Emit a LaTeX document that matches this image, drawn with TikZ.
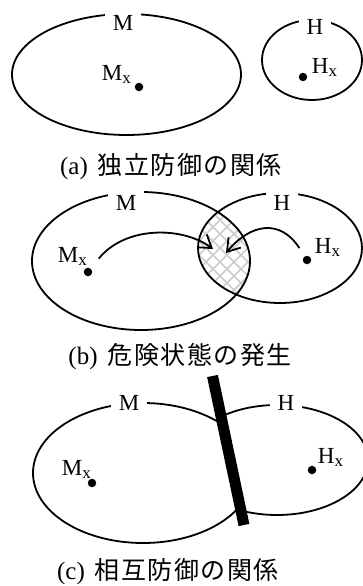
\documentclass[tikz,border=0pt]{standalone}
\usepackage{fontspec}
\setmainfont{Liberation Serif}
\newfontfamily\jpfont[LetterSpace=6]{Noto Sans CJK JP}
\usetikzlibrary{arrows.meta}
\newcommand{\subx}{\raisebox{-3pt}{\fontsize{17}{17}\selectfont x}}

\begin{document}
\begin{tikzpicture}[x=1pt, y=-1pt, line width=1.8pt,
  setlabel/.style={fill=white, inner xsep=8pt, inner ysep=0pt, minimum height=22pt, anchor=base, font=\fontsize{23}{23}\selectfont},
  ptlabel/.style={inner sep=0pt, anchor=base west, font=\fontsize{23}{23}\selectfont},
  dot/.style={circle, fill, inner sep=0pt, minimum size=8.5pt},
  caption/.style={font=\fontsize{25}{28}\selectfont},
  hatch/.style={gray!40, line width=1.5pt},
  reach/.style={-{Straight Barb[length=12pt,width=16pt]}}]
\useasboundingbox (0,0) rectangle (362,586);

% (a) two separate sets
\draw (126.5,74.5) ellipse [x radius=114.5pt, y radius=60.5pt];
\draw (312,60) ellipse [x radius=50pt, y radius=40pt];
\node[setlabel] (ma) at (123,31) {M};
\node[setlabel] (ha) at (315,35) {H};
\node[dot] (mxa) at (139,87) {};
\node[ptlabel] (mxla) at (101,81) {M\subx};
\node[dot] (hxa) at (303,77) {};
\node[ptlabel] (hxla) at (311,74) {H\subx};
\node[caption] (capa) at (171,167) {(a)\hspace{10pt}{\jpfont 独立防御の関係}};

% (b) overlapping sets, hatched danger zone
\begin{scope}
\clip (141,261) ellipse [x radius=109pt, y radius=69pt];
\clip (280,248) ellipse [x radius=82pt, y radius=55pt];
\foreach \c in {-126,-112,...,70} {
  \draw[hatch] (\c+200,200) -- ++(110,110);
  \draw[hatch] (\c+200,310) -- ++(110,-110);
}
\end{scope}
\draw (141,261) ellipse [x radius=109pt, y radius=69pt];
\draw (280,248) ellipse [x radius=82pt, y radius=55pt];
\node[setlabel] (mb) at (126,210) {M};
\node[setlabel] (hb) at (282,210) {H};
\node[dot] (mxb) at (88,272) {};
\node[ptlabel] (mxlb) at (57,262) {M\subx};
\node[dot] (hxb) at (307,260) {};
\node[ptlabel] (hxlb) at (314,253) {H\subx};
\coordinate (tipm) at (213,249);
\coordinate (tiph) at (226,253);
\draw[reach, shorten <=12pt] (mxb) .. controls (125,226) and (182,226) .. (tipm);
\draw[reach, shorten <=9pt] (hxb) .. controls (280,218) and (250,224) .. (tiph);
\node[caption] (capb) at (180,357) {(b)\hspace{10pt}{\jpfont 危険状態の発生}};

% (c) sets split by a wall
\coordinate (bartop) at (212.5,376);
\coordinate (barbot) at (244,525);
\begin{scope}
\clip (0,380) -- (213.3,380) -- (251.4,560) -- (0,560) -- cycle;
\draw (143,473) ellipse [x radius=110pt, y radius=70pt];
\end{scope}
\begin{scope}
\clip (213.3,380) -- (370,380) -- (370,560) -- (251.4,560) -- cycle;
\draw (277,460) ellipse [x radius=91pt, y radius=55pt];
\end{scope}
\draw[line width=11pt] (bartop) -- (barbot);
\node[setlabel] (mc) at (129,410) {M};
\node[setlabel] (hc) at (286,410) {H};
\node[dot] (mxc) at (92,483) {};
\node[ptlabel] (mxlc) at (61,475) {M\subx};
\node[dot] (hxc) at (312,470) {};
\node[ptlabel] (hxlc) at (317,463) {H\subx};
\node[caption] (capc) at (168,572) {(c)\hspace{10pt}{\jpfont 相互防御の関係}};
\end{tikzpicture}
\end{document}
